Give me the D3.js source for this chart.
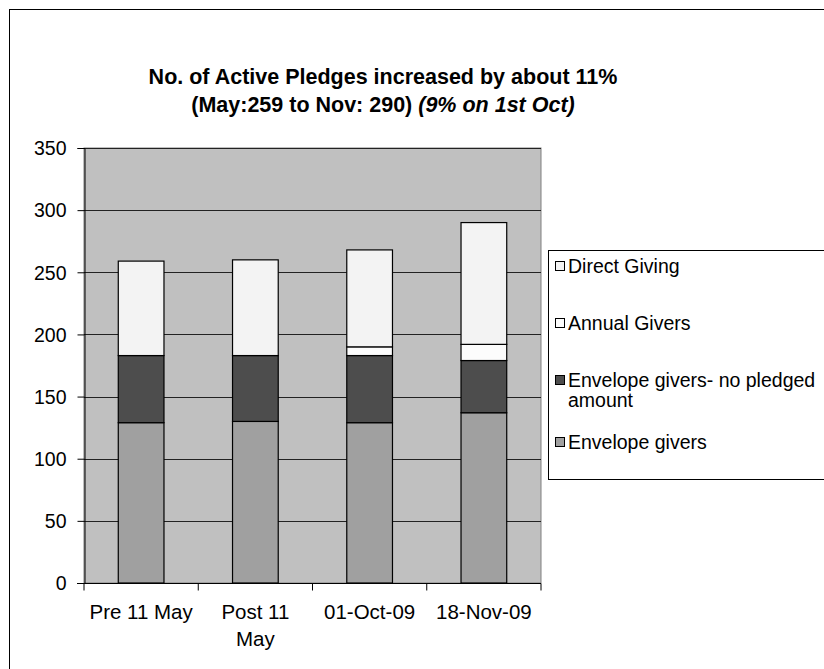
<!DOCTYPE html>
<html><head><meta charset="utf-8">
<script src="https://cdn.jsdelivr.net/npm/d3@7"></script>
<style>body{margin:0;background:#fff}svg{display:block}text{font-family:Arial,"Liberation Sans",sans-serif}</style>
</head><body>
<svg id="c" width="824" height="669"></svg>
<script>
const categories = [["Pre 11 May"], ["Post 11", "May"], ["01-Oct-09"], ["18-Nov-09"]];
const categoryKeys = ["Pre 11 May", "Post 11 May", "01-Oct-09", "18-Nov-09"];
const envelopeGivers = [129, 130, 129, 137];
const envelopeNoPledge = [54, 53, 54, 42];
const annualGivers = [0, 0, 7, 13];
const directGiving = [76, 77, 78, 98];
const seriesNames = ["Envelope givers", "Envelope givers- no pledged amount", "Annual Givers", "Direct Giving"];
const seriesColors = ["#a0a0a0", "#4d4d4d", "#fcfcfc", "#f3f3f3"];
const yTicks = [0, 50, 100, 150, 200, 250, 300, 350];

const svg = d3.select("#c");
svg.append("rect").attr("x", 9.5).attr("y", 9.5).attr("width", 830).attr("height", 680)
  .attr("fill", "#fff").attr("stroke", "#000").attr("stroke-width", 1);

const m = {left: 84, right: 541, top: 148, bottom: 583};
const x = d3.scaleBand().domain(categoryKeys).range([m.left, m.right]).paddingInner(0.6).paddingOuter(0.3);
const y = d3.scaleLinear().domain([0, 350]).range([m.bottom, m.top]);

svg.append("rect").attr("x", m.left).attr("y", m.top).attr("width", m.right - m.left).attr("height", m.bottom - m.top)
  .attr("fill", "#c0c0c0").attr("stroke", "#808080");

svg.append("g").selectAll("line").data(yTicks.filter(d => d > 0)).join("line")
  .attr("x1", m.left).attr("x2", m.right).attr("y1", d => Math.round(y(d)) + 0.5).attr("y2", d => Math.round(y(d)) + 0.5)
  .attr("stroke", "#222").attr("stroke-width", 1);

const rows = categoryKeys.map((k, i) => ({key: k, s0: envelopeGivers[i], s1: envelopeNoPledge[i], s2: annualGivers[i], s3: directGiving[i]}));
const stack = d3.stack().keys(["s0", "s1", "s2", "s3"])(rows);

svg.append("g").selectAll("g").data(stack).join("g")
  .attr("fill", (d, i) => seriesColors[i])
  .selectAll("rect").data(d => d.filter(p => p[1] - p[0] > 0)).join("rect")
  .attr("x", d => x(d.data.key)).attr("width", x.bandwidth())
  .attr("y", d => y(d[1])).attr("height", d => y(d[0]) - y(d[1]))
  .attr("stroke", "#000").attr("stroke-width", 1.2);

const ya = svg.append("g").attr("transform", `translate(${m.left + 0.5},0)`)
  .call(d3.axisLeft(y).tickValues(yTicks).tickSize(7).tickPadding(11));
ya.select(".domain").attr("stroke", "#000");
ya.selectAll("text").attr("font-size", 19.5).attr("fill", "#000").attr("dy", "0.35em");

const xa = svg.append("g").attr("transform", `translate(0,${m.bottom + 0.5})`);
xa.append("line").attr("x1", m.left - 7).attr("x2", m.right).attr("stroke", "#000");
const bounds = d3.range(5).map(i => m.left + (m.right - m.left) / 4 * i);
xa.selectAll("line.t").data(bounds).join("line").attr("class", "t")
  .attr("x1", d => d).attr("x2", d => d).attr("y1", 0).attr("y2", 7).attr("stroke", "#000");
xa.selectAll("text").data(categories).join("text")
  .attr("x", (d, i) => x(categoryKeys[i]) + x.bandwidth() / 2)
  .attr("text-anchor", "middle").attr("font-size", 20.5)
  .selectAll("tspan").data(d => d).join("tspan")
  .attr("x", function() { return d3.select(this.parentNode).attr("x"); })
  .attr("y", (d, j) => 35 + j * 27).text(d => d);

const t = svg.append("text").attr("x", 383).attr("text-anchor", "middle").attr("font-weight", "bold").attr("font-size", 21.5);
t.append("tspan").attr("x", 383).attr("y", 84).text("No. of Active Pledges increased by about 11%");
const t2 = t.append("tspan").attr("x", 383).attr("y", 112);
t2.append("tspan").text("(May:259 to Nov: 290) ");
t2.append("tspan").attr("font-style", "italic").text("(9% on 1st Oct)");

const lg = svg.append("g");
lg.append("rect").attr("x", 548.5).attr("y", 250.5).attr("width", 290).attr("height", 229)
  .attr("fill", "#fff").attr("stroke", "#000");
const legendItems = [
  {name: ["Direct Giving"], c: seriesColors[3], y: 266},
  {name: ["Annual Givers"], c: seriesColors[2], y: 323},
  {name: ["Envelope givers- no pledged", "amount"], c: seriesColors[1], y: 380},
  {name: ["Envelope givers"], c: seriesColors[0], y: 442}
];
const li = lg.selectAll("g.i").data(legendItems).join("g").attr("class", "i");
li.append("rect").attr("x", 555.5).attr("y", d => d.y - 4.5).attr("width", 9).attr("height", 9)
  .attr("fill", d => d.c).attr("stroke", "#000");
li.append("text").attr("font-size", 19.5).attr("fill", "#000")
  .selectAll("tspan").data(d => d.name.map((n, j) => ({n, y: d.y + 7 + j * 20}))).join("tspan")
  .attr("x", 568).attr("y", d => d.y).text(d => d.n);
</script>
</body></html>
